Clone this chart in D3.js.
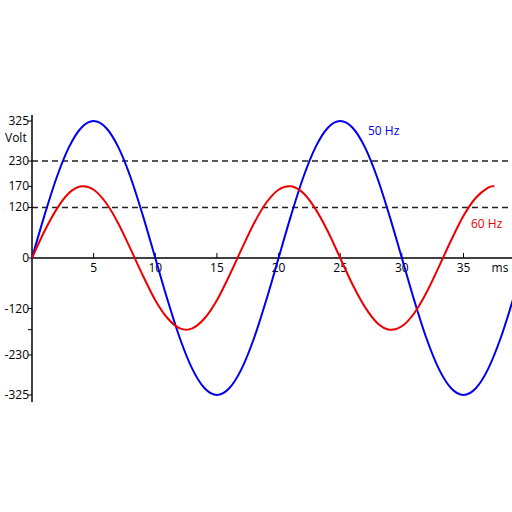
<!DOCTYPE html>
<html><head><meta charset="utf-8">
<script src="https://cdn.jsdelivr.net/npm/d3@7.9.0/dist/d3.min.js"></script>
<style>body{margin:0;background:#fff}text{font-family:"Open Sans",sans-serif;font-size:12px}</style>
</head><body><svg id="c" width="512" height="512"></svg>
<script>
// samples, 1 ms apart
const blueT = d3.range(0, 40);
const blueV = [0,100,191,263,309,325,309,263,191,100,0,-100,-191,-263,-309,-325,-309,-263,-191,-100,
  0,100,191,263,309,325,309,263,191,100,0,-100,-191,-263,-309,-325,-309,-263,-191,-100];
const redT = d3.range(0, 38).concat([37.5]);
const redV = [0,63,116,154,170,162,131,82,21,-42,-100,-143,-167,-167,-143,-100,-42,21,82,131,162,170,154,116,63,
  0,-63,-116,-154,-170,-162,-131,-82,-21,42,100,143,167,170];
const yTicks = [325,230,170,120,0,-120,-170,-230,-325];
const yLabels = [325,230,170,120,0,-120,-230,-325];
const xTicks = [5,10,15,20,25,30,35];
const dashed = [230,120];

const svg = d3.select('#c');
const x = d3.scaleLinear().domain([0, 35]).range([32, 463.5]);
const y = d3.scaleLinear().domain([-325, 325]).range([395, 121]);

// dashed reference lines
dashed.forEach(v => {
  svg.append('line').attr('x1', 32).attr('x2', 512).attr('y1', y(v)).attr('y2', y(v))
    .attr('stroke', '#222').attr('stroke-width', 1.5).attr('stroke-dasharray', '6,4');
});

// axes
svg.append('line').attr('x1', 32).attr('x2', 512).attr('y1', y(0)).attr('y2', y(0)).attr('stroke', '#000').attr('stroke-width', 1.5);
svg.append('line').attr('x1', 32).attr('x2', 32).attr('y1', 115).attr('y2', 402).attr('stroke', '#000').attr('stroke-width', 1.5);
yTicks.forEach(v => {
  svg.append('line').attr('x1', 28).attr('x2', 32).attr('y1', y(v)).attr('y2', y(v)).attr('stroke', '#000');
});
yLabels.forEach(v => {
  svg.append('text').attr('x', 29).attr('y', y(v) + 4).attr('text-anchor', 'end').text(v);
});
xTicks.forEach(v => {
  svg.append('line').attr('x1', x(v)).attr('x2', x(v)).attr('y1', y(0) - 5).attr('y2', y(0)).attr('stroke', '#000');
  svg.append('text').attr('x', x(v)).attr('y', y(0) + 14).attr('text-anchor', 'middle').text(v);
});
svg.append('text').attr('x', 5).attr('y', 142).text('Volt');
svg.append('text').attr('x', 500).attr('y', y(0) + 14).attr('text-anchor', 'middle').text('ms');

const line = d3.line().x(d => x(d[0])).y(d => y(d[1])).curve(d3.curveCardinal);
svg.append('path').attr('d', line(d3.zip(blueT, blueV))).attr('fill', 'none').attr('stroke', '#0000ee').attr('stroke-width', 2);
svg.append('path').attr('d', line(d3.zip(redT, redV))).attr('fill', 'none').attr('stroke', '#ee0000').attr('stroke-width', 2);

svg.append('text').attr('x', 368).attr('y', 135).attr('fill', '#0000ee').text('50 Hz');
svg.append('text').attr('x', 471).attr('y', 228).attr('fill', '#ee0000').text('60 Hz');
</script></body></html>
